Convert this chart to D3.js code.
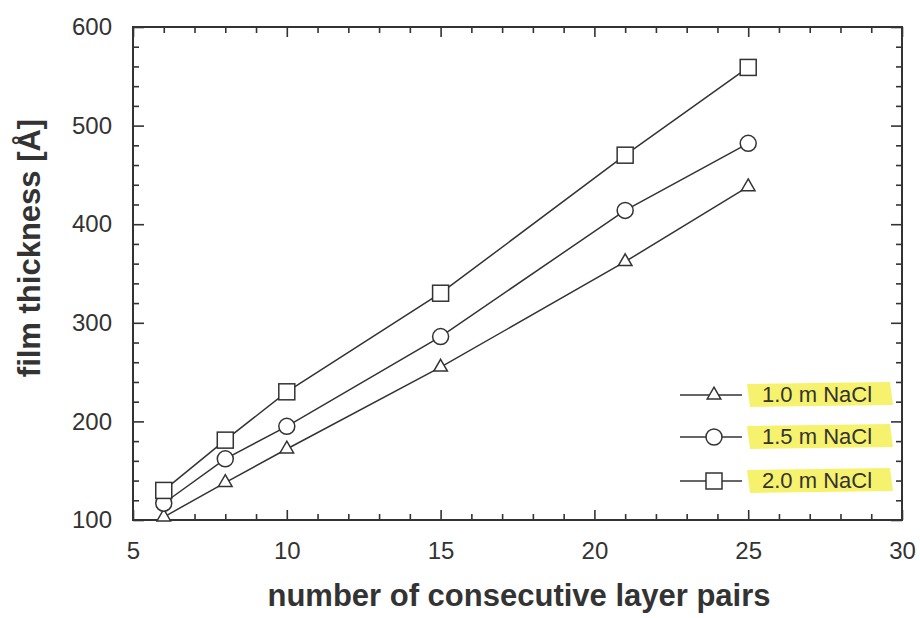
<!DOCTYPE html>
<html>
<head>
<meta charset="UTF-8">
<title></title>
<script src="https://d3js.org/d3.v7.min.js"></script>
<style>
  body { margin: 0; background: #fff; }
  svg { display: block; font-family: "Liberation Sans", Arial, Helvetica, sans-serif; }
</style>
</head>
<body>
<div id="svg"></div>
<script>
const layerPairs = [6, 8, 10, 15, 21, 25];
const nacl10 = [103, 138, 172, 255, 362, 438];
const nacl15 = [117, 162, 195, 286, 414, 482];
const nacl20 = [130, 181, 230, 330, 470, 559];
const seriesNames = ['1.0 m NaCl', '1.5 m NaCl', '2.0 m NaCl'];
const xTicks = [5, 10, 15, 20, 25, 30];
const yTicks = [100, 200, 300, 400, 500, 600];

const width = 920, height = 618;
const padding = {top: 27, left: 133, right: 18, bottom: 98};
const ink = '#333';

const svg = d3.select('#svg').append('svg').attr('width', width).attr('height', height);

const xScale = d3.scaleLinear().domain([5, 30]).range([padding.left, width - padding.right]);
const yScale = d3.scaleLinear().domain([100, 600]).range([height - padding.bottom, padding.top]);

const xMinor = d3.range(5, 31, 1).filter(v => v % 5 !== 0);
const yMinor = d3.range(100, 601, 20).filter(v => v % 100 !== 0);

// axes, ticks pointing inward on all four sides
function styleAxis(g) {
  g.select('.domain').remove();
  g.selectAll('.tick line').attr('stroke', ink).attr('stroke-width', 1.6);
  g.selectAll('.tick text').attr('fill', ink).style('font-size', '24px');
}
const bottomY = yScale(100), topY = yScale(600), leftX = xScale(5), rightX = xScale(30);

svg.append('g').attr('transform', `translate(0,${bottomY})`)
  .call(d3.axisBottom(xScale).tickValues(xTicks).tickSizeInner(-10).tickSizeOuter(0).tickPadding(22))
  .call(styleAxis);
svg.append('g').attr('transform', `translate(0,${bottomY})`)
  .call(d3.axisBottom(xScale).tickValues(xMinor).tickSizeInner(-6).tickSizeOuter(0).tickFormat(''))
  .call(styleAxis);
svg.append('g').attr('transform', `translate(0,${topY})`)
  .call(d3.axisTop(xScale).tickValues(xTicks).tickSizeInner(-10).tickSizeOuter(0).tickFormat(''))
  .call(styleAxis);
svg.append('g').attr('transform', `translate(0,${topY})`)
  .call(d3.axisTop(xScale).tickValues(xMinor).tickSizeInner(-6).tickSizeOuter(0).tickFormat(''))
  .call(styleAxis);
svg.append('g').attr('transform', `translate(${leftX},0)`)
  .call(d3.axisLeft(yScale).tickValues(yTicks).tickSizeInner(-11).tickSizeOuter(0).tickPadding(21))
  .call(styleAxis);
svg.append('g').attr('transform', `translate(${leftX},0)`)
  .call(d3.axisLeft(yScale).tickValues(yMinor).tickSizeInner(-6).tickSizeOuter(0).tickFormat(''))
  .call(styleAxis);
svg.append('g').attr('transform', `translate(${rightX},0)`)
  .call(d3.axisRight(yScale).tickValues(yTicks).tickSizeInner(-11).tickSizeOuter(0).tickFormat(''))
  .call(styleAxis);
svg.append('g').attr('transform', `translate(${rightX},0)`)
  .call(d3.axisRight(yScale).tickValues(yMinor).tickSizeInner(-6).tickSizeOuter(0).tickFormat(''))
  .call(styleAxis);

// frame
svg.append('rect').attr('x', leftX).attr('y', topY).attr('width', rightX - leftX).attr('height', bottomY - topY)
  .attr('fill', 'none').attr('stroke', ink).attr('stroke-width', 2);

// axis titles
svg.append('text').attr('x', 519).attr('y', 606).attr('text-anchor', 'middle')
  .attr('fill', ink).style('font-size', '31px').style('font-weight', 'bold')
  .text('number of consecutive layer pairs');
svg.append('text').attr('transform', 'translate(40,248) rotate(-90)')
  .attr('text-anchor', 'middle').attr('fill', ink).style('font-size', '31px').style('font-weight', 'bold')
  .text('film thickness [Å]');

// markers
function drawMarker(g, kind, x, y) {
  if (kind === 0) {
    g.append('path').attr('d', d3.symbol().type(d3.symbolTriangle).size(80)())
      .attr('transform', `translate(${x},${y})`)
      .attr('fill', '#fff').attr('stroke', ink).attr('stroke-width', 1.5);
  } else if (kind === 1) {
    g.append('circle').attr('cx', x).attr('cy', y).attr('r', 8)
      .attr('fill', '#fff').attr('stroke', ink).attr('stroke-width', 1.5);
  } else {
    g.append('rect').attr('x', x - 8).attr('y', y - 8).attr('width', 16).attr('height', 16)
      .attr('fill', '#fff').attr('stroke', ink).attr('stroke-width', 1.5);
  }
}

const allSeries = [nacl10, nacl15, nacl20];
const line = d3.line().x((d, i) => xScale(layerPairs[i])).y(d => yScale(d));

allSeries.forEach(vals => {
  svg.append('path').attr('d', line(vals)).attr('fill', 'none').attr('stroke', ink).attr('stroke-width', 1.5);
});
allSeries.forEach((vals, k) => {
  const g = svg.append('g');
  vals.forEach((v, i) => drawMarker(g, k, xScale(layerPairs[i]), yScale(v)));
});

// legend
const legendRows = [395, 437, 481];
seriesNames.forEach((name, k) => {
  const y = legendRows[k];
  const g = svg.append('g');
  g.append('path').attr('d', `M747,${y - 11} L890,${y - 13} L893,${y + 10} L750,${y + 12} Z`)
    .attr('fill', '#f3ee3c').attr('opacity', 0.75);
  g.append('line').attr('x1', 680).attr('x2', 742).attr('y1', y).attr('y2', y)
    .attr('stroke', ink).attr('stroke-width', 1.3);
  drawMarker(g, k, 714, y);
  g.append('text').attr('x', 762).attr('y', y + 7).attr('fill', ink).style('font-size', '22px').text(name);
});
</script>
</body>
</html>
